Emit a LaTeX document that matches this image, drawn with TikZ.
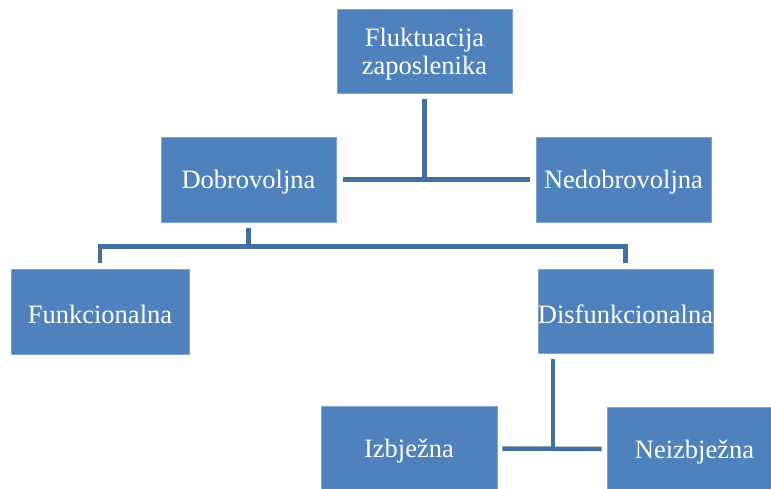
\documentclass[tikz,border=0pt]{standalone}
\usepackage{fontspec}
\setmainfont{Liberation Serif}
\definecolor{boxblue}{HTML}{4F81BD}
\definecolor{boxedge}{HTML}{7FA3D0}
\definecolor{linkblue}{HTML}{41719C}
\tikzset{
  orgbox/.style={rectangle, fill=boxblue, draw=boxedge, line width=0.8pt,
    inner sep=0pt, minimum width=175pt, minimum height=85pt},
  boxtext/.style={text=white, inner sep=0pt, align=center, yshift=-3pt,
    font=\fontsize{26.5}{27.5}\selectfont},
  conn/.style={draw=linkblue, line width=4.5pt}
}
\begin{document}
\begin{tikzpicture}[x=1pt,y=-1pt]
\useasboundingbox (0,0) rectangle (771,488);
\clip (0,0) rectangle (771,488);
\node[orgbox, minimum height=84pt, label={[boxtext]center:Fluktuacija\\zaposlenika}] (top) at (424.5,51) {};
\node[orgbox, label={[boxtext]center:Dobrovoljna}] (dob) at (248.5,179.5) {};
\node[orgbox, label={[boxtext]center:Nedobrovoljna}] (ned) at (623.5,179.5) {};
\node[orgbox, minimum width=178pt, label={[boxtext]center:Funkcionalna}] (funk) at (100,311.5) {};
\node[orgbox, minimum height=84pt, label={[boxtext]center:Disfunkcionalna}] (dis) at (625.5,311) {};
\node[orgbox, minimum width=176pt, label={[boxtext]center:Izbježna}] (izb) at (409,448.5) {};
\node[orgbox, minimum height=84pt, label={[boxtext]center:Neizbježna}] (neiz) at (694.5,449) {};
% level 1
\draw[conn] ([xshift=7pt]dob.east) -- ([xshift=-6pt]ned.west);
\draw[conn] ([yshift=-6pt]top.south) -- (top.south |- dob.east);
% level 2
\coordinate (b1) at ([yshift=-24pt]dob.south);
\draw[conn] ([yshift=-6pt]dob.south) -- (b1);
\draw[conn] ([yshift=6pt]funk.north) |- (b1) -| ([yshift=6pt]dis.north);
% level 3
\draw[conn] ([xshift=5pt]izb.east) -- ([xshift=-5pt]neiz.west);
\coordinate (v3) at ([xshift=-72.5pt,yshift=-6pt]dis.south);
\draw[conn] (v3) -- (v3 |- izb.east);
\end{tikzpicture}
\end{document}
